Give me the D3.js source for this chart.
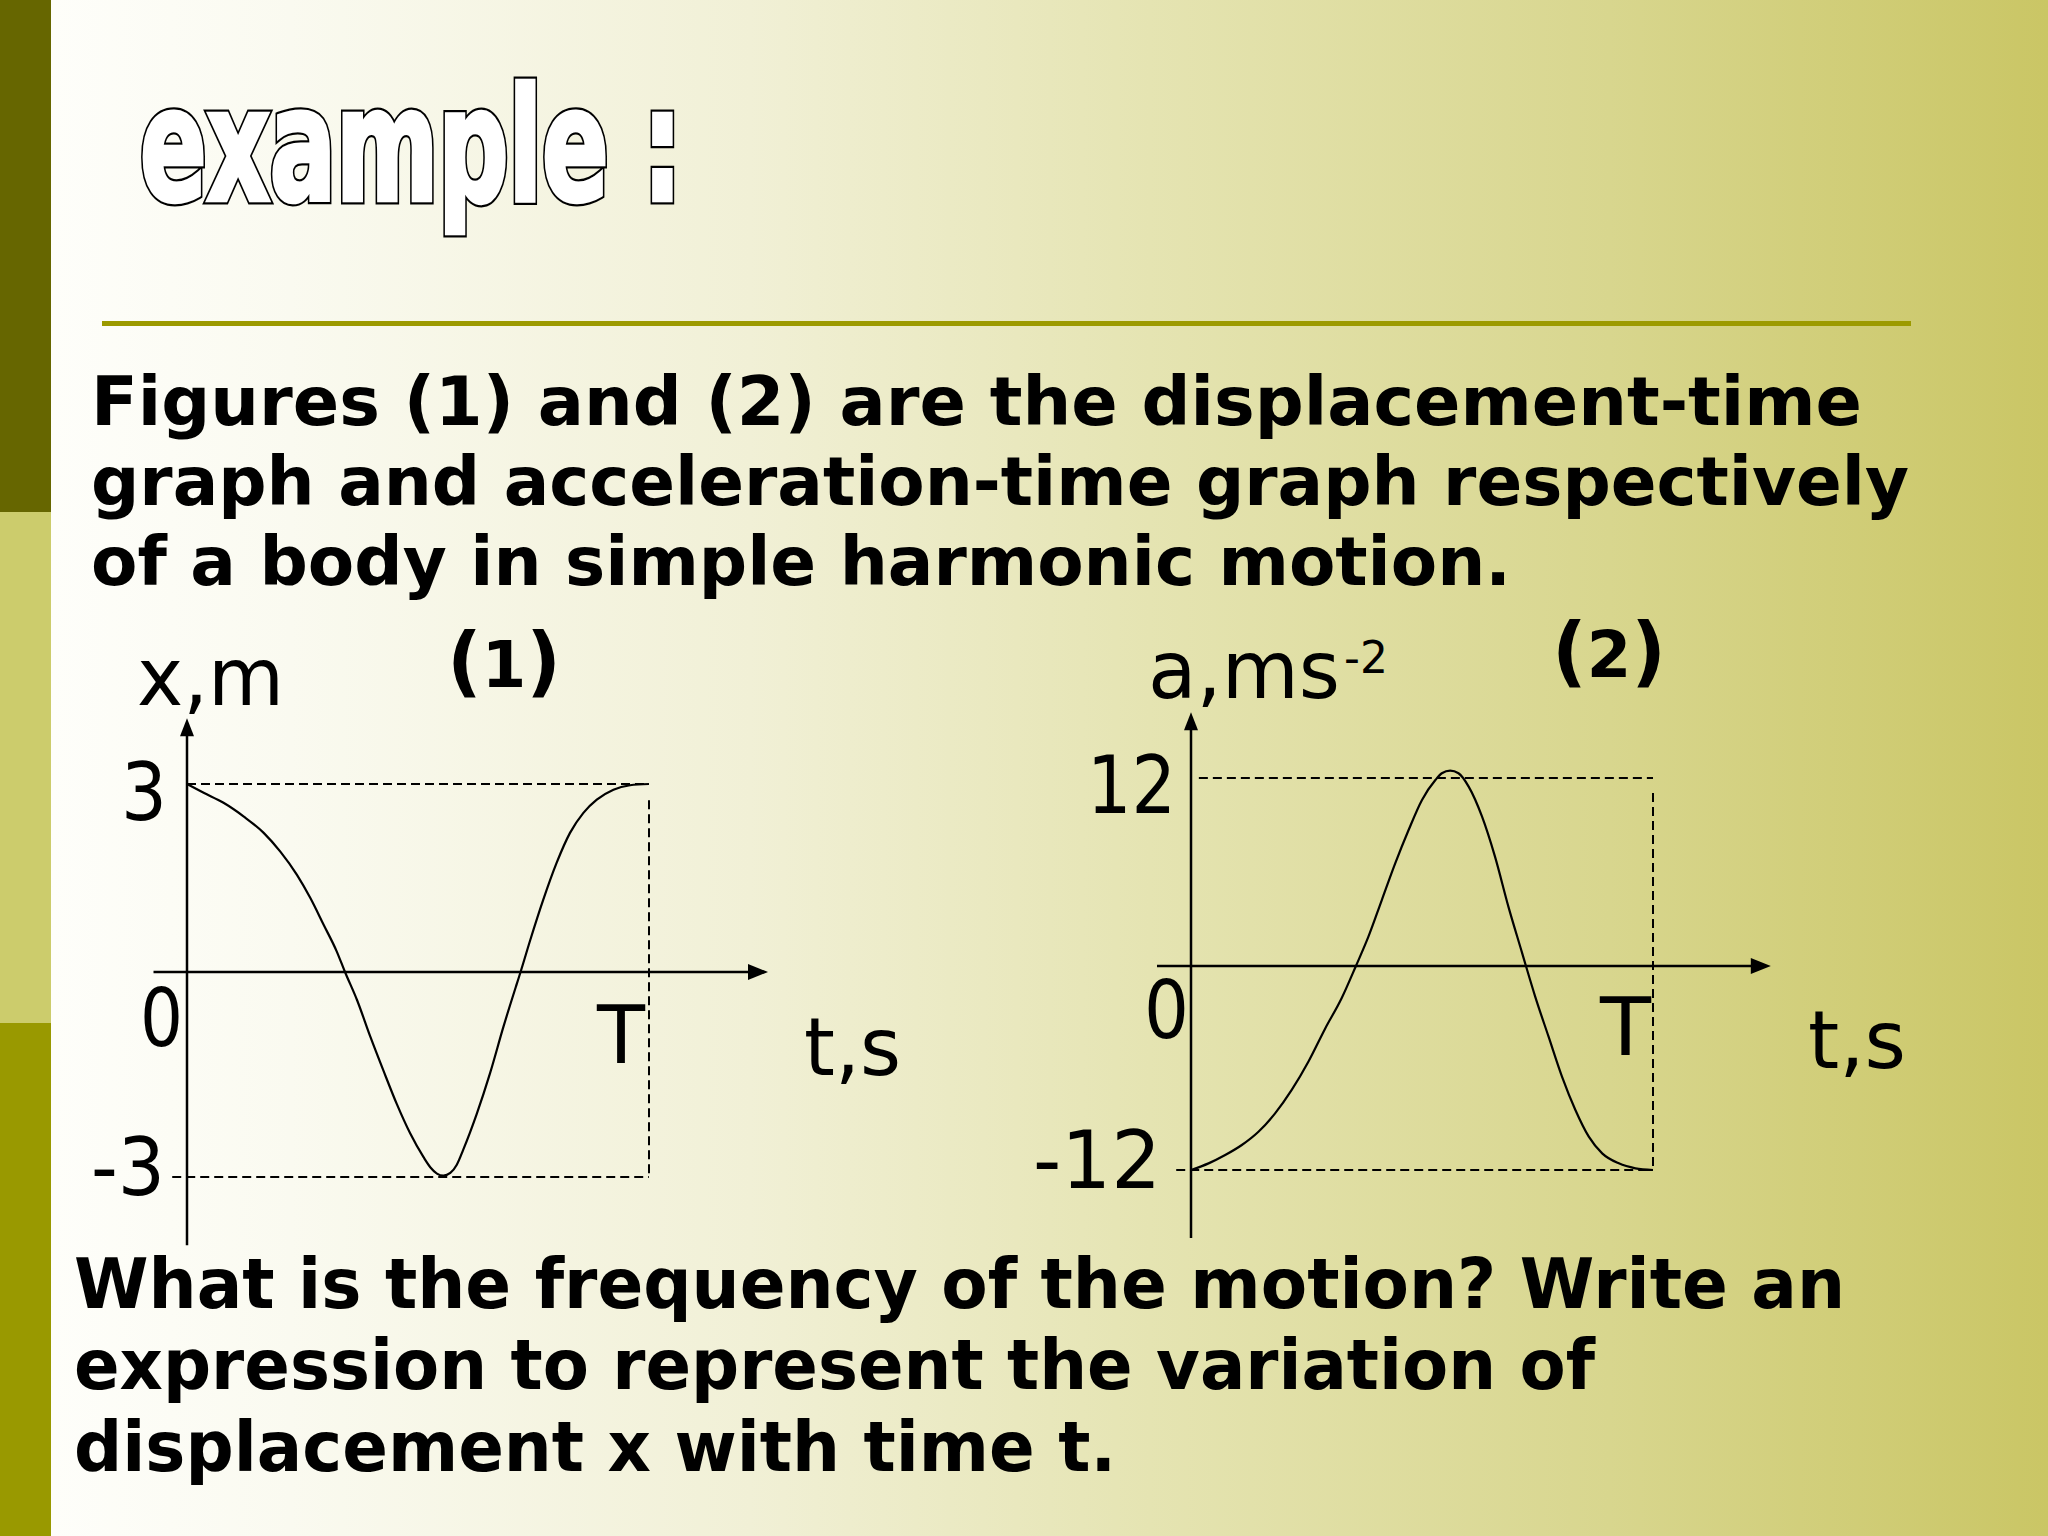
<!DOCTYPE html>
<html><head><meta charset="utf-8">
<script src="https://cdn.jsdelivr.net/npm/d3@7"></script>
<style>html,body{margin:0;padding:0;background:#fff;} svg{display:block}</style>
</head><body>
<svg id="c" width="2048" height="1536"></svg>
<script>
// ---------- data ----------
const dispT = [0, .036, .079, .123, .166, .202, .238, .267, .296, .324, .342, .368, .397, .425, .454, .483, .512, .527, .541, .555, .570, .584, .598, .627, .656, .685, .714, .722, .743, .771, .800, .829, .858, .887, .923, .959, 1];
const dispX = [3, 2.86, 2.70, 2.48, 2.22, 1.92, 1.55, 1.18, 0.75, 0.33, 0, -0.41, -0.95, -1.44, -1.93, -2.36, -2.71, -2.86, -2.95, -2.98, -2.94, -2.82, -2.60, -2.08, -1.48, -0.80, -0.17, 0, 0.51, 1.15, 1.74, 2.22, 2.54, 2.75, 2.91, 2.98, 3];
const accT = [0, .038, .074, .110, .146, .182, .218, .254, .290, .326, .357, .384, .413, .442, .471, .500, .529, .543, .561, .579, .601, .630, .658, .687, .716, .725, .745, .774, .803, .832, .861, .890, .926, .962, 1];
const accA = [-12, -11.61, -11.12, -10.53, -9.75, -8.67, -7.29, -5.63, -3.70, -1.90, 0, 1.87, 4.21, 6.55, 8.68, 10.60, 11.87, 12.30, 12.47, 12.30, 11.45, 9.53, 6.98, 3.79, 0.9, 0, -1.80, -4.16, -6.51, -8.47, -10.04, -11.02, -11.61, -11.90, -12];
const dispTickVals = [3, 0, -3];
const dispTickLabels = ["3", "0", "-3"];
const accTickVals = [12, 0, -12];
const accTickLabels = ["12", "0", "-12"];
const periodLabel = "T";
const titleText = "example :";
const introLines = ["Figures (1) and (2) are the displacement-time", "graph and acceleration-time graph respectively", "of a body in simple harmonic motion."];
const questionLines = ["What is the frequency of the motion? Write an", "expression to represent the variation of", "displacement x with time t."];

// ---------- layout ----------
const svg = d3.select("#c");
const defs = svg.append("defs");
const grad = defs.append("linearGradient").attr("id", "bg").attr("x1", "0").attr("x2", "1").attr("y1", "0").attr("y2", "0");
[[0, "#fefefa"], [0.12, "#fafaf0"], [0.35, "#f1f0d6"], [0.55, "#e5e4b2"], [0.78, "#d8d68e"], [1, "#cac665"]].forEach(s =>
  grad.append("stop").attr("offset", s[0]).attr("stop-color", s[1]));

svg.append("rect").attr("x", 51).attr("y", 0).attr("width", 1997).attr("height", 1536).attr("fill", "url(#bg)");
// left strip
svg.append("rect").attr("x", 0).attr("y", 0).attr("width", 51).attr("height", 512).attr("fill", "#666600");
svg.append("rect").attr("x", 0).attr("y", 512).attr("width", 51).attr("height", 511).attr("fill", "#cccc6c");
svg.append("rect").attr("x", 0).attr("y", 1023).attr("width", 51).attr("height", 513).attr("fill", "#999900");

// title (WordArt-like outlined, heavy)
const titleFont = "'Liberation Sans Narrow','Arial Narrow','DejaVu Sans Condensed',sans-serif";
const addTitle = (fill, stroke, sw) => svg.append("text").text(titleText)
  .attr("x", 140).attr("y", 200)
  .attr("font-family", titleFont)
  .attr("font-weight", "bold").attr("font-size", 156)
  .attr("textLength", 542).attr("lengthAdjust", "spacingAndGlyphs")
  .attr("fill", fill).attr("stroke", stroke).attr("stroke-width", sw)
  .attr("stroke-linejoin", "miter");
addTitle("#000", "#000", 9);
addTitle("#fff", "#fff", 4.5);

// rule
svg.append("rect").attr("x", 102).attr("y", 321).attr("width", 1809).attr("height", 5).attr("fill", "#9c9a00");

// paragraphs
const boldFont = "'DejaVu Sans','Verdana',sans-serif";
const introLayout = [{ y: 425, w: 1771 }, { y: 505, w: 1818 }, { y: 585, w: 1420 }];
introLines.forEach((t, i) => svg.append("text").text(t).attr("x", 91).attr("y", introLayout[i].y)
  .attr("font-family", boldFont).attr("font-weight", "bold").attr("font-size", 68)
  .attr("textLength", introLayout[i].w).attr("lengthAdjust", "spacingAndGlyphs").attr("fill", "#000"));
const qLayout = [{ y: 1308, w: 1771 }, { y: 1389, w: 1521 }, { y: 1471, w: 1042 }];
questionLines.forEach((t, i) => svg.append("text").text(t).attr("x", 74).attr("y", qLayout[i].y)
  .attr("font-family", boldFont).attr("font-weight", "bold").attr("font-size", 69)
  .attr("textLength", qLayout[i].w).attr("lengthAdjust", "spacingAndGlyphs").attr("fill", "#000"));

// ---------- graph helper ----------
const regFont = "'DejaVu Sans','Verdana',sans-serif";
function graph(cfg) {
  const g = svg.append("g");
  const x = d3.scaleLinear().domain([0, 1]).range(cfg.xRange);
  const y = d3.scaleLinear().domain([-cfg.amp, 0, cfg.amp]).range(cfg.yRange);
  // dashed guides
  const dash = "9,5";
  const guide = (x1, y1, x2, y2) => g.append("line").attr("x1", x(x1)).attr("y1", y(y1)).attr("x2", x(x2)).attr("y2", y(y2))
    .attr("stroke", "#000").attr("stroke-width", 2).attr("stroke-dasharray", dash);
  guide(cfg.topStart, cfg.amp, 1, cfg.amp);
  guide(cfg.botStart, -cfg.amp, 1, -cfg.amp);
  guide(1, cfg.vStart, 1, -cfg.amp);
  // axes
  const ax = g.append("g").attr("stroke", "#000").attr("stroke-width", 2.5);
  ax.append("line").attr("x1", x(cfg.tAxis[0])).attr("x2", x(cfg.tAxis[1]) - 14).attr("y1", y(0)).attr("y2", y(0));
  ax.append("line").attr("x1", x(0)).attr("x2", x(0)).attr("y1", y(cfg.vAxis[0])).attr("y2", y(cfg.vAxis[1]) + 12);
  const tx = x(cfg.tAxis[1]), ty = y(0);
  g.append("path").attr("d", `M${tx},${ty} L${tx - 20},${ty - 8} L${tx - 20},${ty + 8} Z`).attr("fill", "#000");
  const vx = x(0), vy = y(cfg.vAxis[1]);
  g.append("path").attr("d", `M${vx},${vy} L${vx - 7},${vy + 18} L${vx + 7},${vy + 18} Z`).attr("fill", "#000");
  // curve
  const line = d3.line().x(d => x(d[0])).y(d => y(d[1])).curve(d3.curveMonotoneX);
  g.append("path").attr("d", line(cfg.t.map((t, i) => [t, cfg.v[i]])))
    .attr("fill", "none").attr("stroke", "#000").attr("stroke-width", 2.2);
  // tick labels
  cfg.tickVals.forEach((v, i) => {
    const L = cfg.tickLayout[i];
    g.append("text").text(cfg.tickLabels[i]).attr("x", x(0) - L.dx).attr("y", y(v) + L.dy)
      .attr("text-anchor", "end").attr("font-family", regFont).attr("font-size", 80)
      .attr("textLength", L.w).attr("lengthAdjust", "spacingAndGlyphs").attr("fill", "#000");
  });
  // T label
  g.append("text").text(periodLabel).attr("x", x(1) - cfg.T.dx).attr("y", y(0) + cfg.T.dy)
    .attr("text-anchor", "end").attr("font-family", regFont).attr("font-size", 80)
    .attr("textLength", cfg.T.w).attr("lengthAdjust", "spacingAndGlyphs").attr("fill", "#000");
  // t,s label
  g.append("text").text("t,s").attr("x", cfg.ts.x).attr("y", y(0) + cfg.ts.dy)
    .attr("font-family", regFont).attr("font-size", 80)
    .attr("textLength", cfg.ts.w).attr("lengthAdjust", "spacingAndGlyphs").attr("fill", "#000");
  // y title
  const yt = g.append("text").attr("x", cfg.yTitle.x).attr("y", cfg.yTitle.y)
    .attr("font-family", regFont).attr("font-size", 80).attr("fill", "#000");
  yt.append("tspan").text(cfg.yTitle.main).attr("textLength", cfg.yTitle.w).attr("lengthAdjust", "spacingAndGlyphs");
  if (cfg.yTitle.sup) yt.append("tspan").text(cfg.yTitle.sup).attr("font-size", 44).attr("dy", -25).attr("dx", 4);
  // figure number
  const fn = g.append("text").attr("x", cfg.fig.x).attr("y", cfg.fig.y)
    .attr("font-family", boldFont).attr("font-weight", "bold").attr("fill", "#000");
  fn.append("tspan").text("(").attr("font-size", 76);
  fn.append("tspan").text(cfg.fig.n).attr("font-size", 64);
  fn.append("tspan").text(")").attr("font-size", 76);
}

graph({
  xRange: [187, 649], yRange: [1177, 972, 784], amp: 3,
  t: dispT, v: dispX,
  topStart: 0, botStart: -0.032, vStart: 2.74,
  tAxis: [-0.0725, 1.2576], vAxis: [-4.0, 4.05],
  tickVals: dispTickVals, tickLabels: dispTickLabels,
  tickLayout: [{ dx: 20, dy: 36, w: 46 }, { dx: 4, dy: 74, w: 43 }, { dx: 22, dy: 18, w: 74 }],
  T: { dx: 4, dy: 91, w: 48 }, ts: { x: 804, dy: 103, w: 97 },
  yTitle: { x: 137, y: 705, main: "x,m", w: 147 },
  fig: { x: 447, y: 687, n: "1" }
});
graph({
  xRange: [1191, 1653], yRange: [1170, 966, 778], amp: 12,
  t: accT, v: accA,
  topStart: 0.017, botStart: -0.032, vStart: 11.04,
  tAxis: [-0.0736, 1.255], vAxis: [-16, 16.2],
  tickVals: accTickVals, tickLabels: accTickLabels,
  tickLayout: [{ dx: 15, dy: 35, w: 89 }, { dx: 2, dy: 72, w: 45 }, { dx: 30, dy: 18, w: 128 }],
  T: { dx: 2, dy: 89, w: 51 }, ts: { x: 1808, dy: 102, w: 98 },
  yTitle: { x: 1148, y: 698, main: "a,ms", sup: "-2", w: 192 },
  fig: { x: 1552, y: 677, n: "2" }
});
</script>
</body></html>
